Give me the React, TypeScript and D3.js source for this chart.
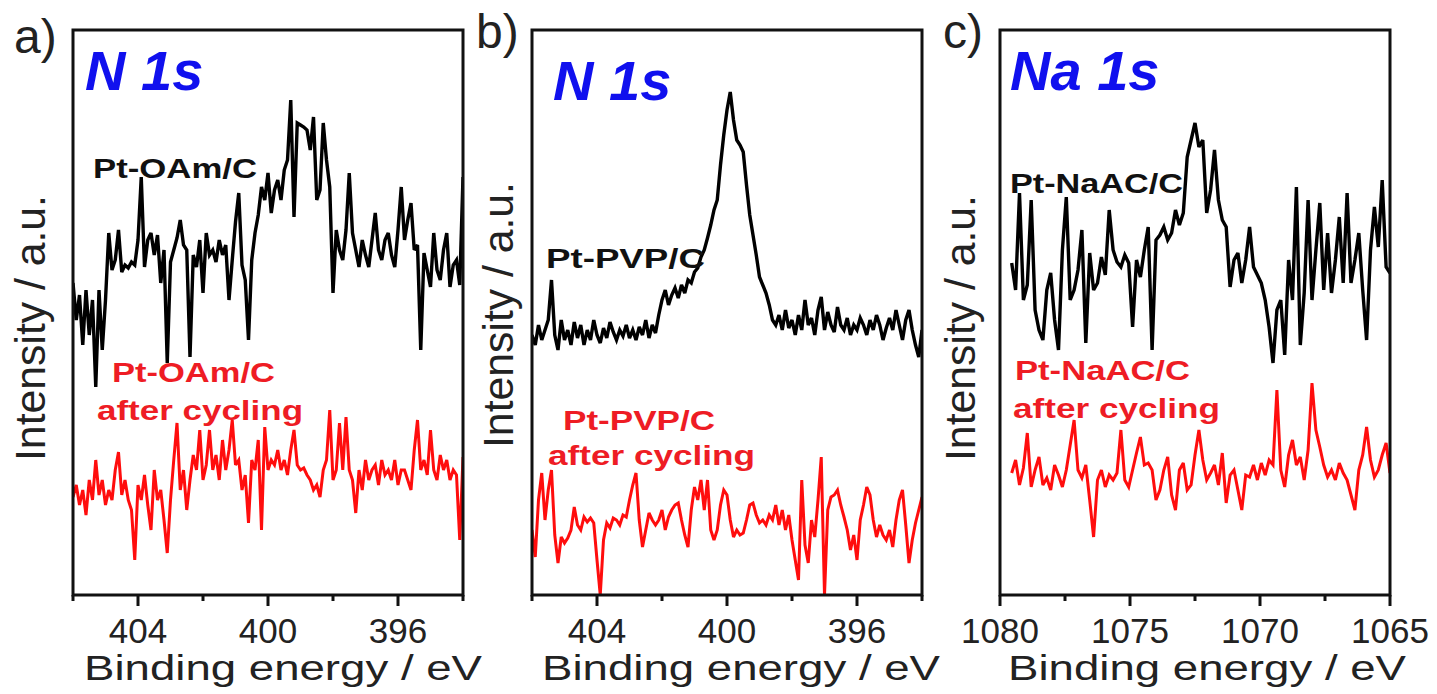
import React from "react";
import * as d3 from "d3";

// ---------- text ----------
const panelLetters = ["a)", "b)", "c)"];
const elementLabels = ["N 1s", "N 1s", "Na 1s"];
const sampleLabels = ["Pt-OAm/C", "Pt-PVP/C", "Pt-NaAC/C"];
const afterLabel = "after cycling";
const xTitle = "Binding energy / eV";
const yTitle = "Intensity / a.u.";

// ---------- axes ----------
const nDomain = [406, 394];
const nMajorTicks = [404, 400, 396];
const nMinorTicks = [406, 402, 398, 394];
const naDomain = [1080, 1065];
const naMajorTicks = [1080, 1075, 1070, 1065];
const naMinorTicks = [1077.5, 1072.5, 1067.5];

// energy span of the recorded spectra (start, end)
const aEnergySpan = [406, 394];
const bEnergySpan = [406, 394];
const cEnergySpan = [1079.55, 1065];

// ---------- series (intensity, a.u.) ----------
const aBlack = [
  317, 280, 305, 255, 310, 265, 300, 213, 310, 250,
  300, 367, 330, 340, 370, 328, 335, 332, 338, 335,
  360, 423, 333, 360, 367, 345, 365, 317, 350, 237,
  338, 350, 362, 380, 355, 350, 243, 345, 333, 360,
  307, 367, 345, 350, 338, 360, 345, 355, 300, 340,
  378, 407, 335, 320, 260, 340, 367, 385, 413, 400,
  427, 387, 410, 420, 400, 430, 440, 500, 383, 477,
  475, 473, 470, 450, 483, 400, 410, 477, 440, 413,
  307, 370, 350, 340, 370, 427, 367, 350, 333, 360,
  345, 333, 360, 387, 350, 340, 360, 367, 345, 333,
  370, 413, 360, 380, 397, 350, 355, 250, 347, 330,
  313, 367, 330, 320, 350, 367, 313, 335, 340, 315,
  423,
];
const aRed = [
  103, 115, 95, 110, 85, 120, 100, 140, 105, 120,
  95, 110, 100, 130, 148, 105, 120, 100, 90, 40,
  115, 100, 125, 95, 70, 130, 100, 110, 80, 47,
  100, 140, 177, 110, 130, 90, 120, 145, 130, 170,
  120, 135, 170, 130, 145, 120, 160, 130, 150, 180,
  135, 140, 110, 125, 77, 140, 130, 160, 70, 173,
  130, 140, 135, 150, 130, 140, 125, 150, 170, 135,
  130, 132, 125, 120, 110, 115, 103, 130, 140, 190,
  120, 130, 177, 130, 183, 130, 120, 87, 130, 110,
  140, 120, 130, 135, 115, 140, 125, 130, 120, 140,
  115, 130, 130, 120, 110, 150, 180, 130, 140, 125,
  170, 130, 120, 145, 130, 140, 120, 130, 125, 60,
  143,
];
const bBlack = [
  265, 255, 275, 260, 270, 280, 320, 265, 250, 280,
  260, 270, 255, 278, 262, 275, 255, 270, 260, 280,
  265, 257, 272, 262, 278, 268, 260, 270, 264, 275,
  262, 270, 260, 273, 265, 280, 262, 275, 267, 285,
  300, 310, 295, 305, 312, 302, 315, 307, 320, 317,
  328, 332, 343, 350, 362, 375, 390, 400, 435, 465,
  490, 508, 480, 460, 455, 448, 415, 385, 365, 345,
  323, 315, 307, 295, 280, 275, 285, 270, 290, 272,
  280, 265, 285, 270, 300, 275, 282, 265, 290, 303,
  270, 288, 275, 268, 293, 275, 270, 282, 265, 275,
  270, 282, 275, 265, 280, 270, 285, 275, 260, 272,
  282, 270, 290, 275, 260, 280, 290, 270, 255, 243,
  270,
];
const bRed = [
  70, 43, 100, 127, 80, 110, 130, 65, 37, 63,
  57, 62, 70, 93, 75, 70, 83, 78, 82, 77,
  40, 5, 60, 77, 72, 82, 80, 75, 85, 83,
  100, 115, 127, 80, 53, 70, 87, 80, 75, 80,
  90, 70, 83, 90, 95, 97, 80, 65, 53, 90,
  113, 100, 120, 90, 120, 70, 60, 70, 95, 110,
  105, 80, 63, 70, 65, 67, 80, 95, 97, 85,
  77, 80, 75, 85, 80, 95, 75, 90, 70, 85,
  60, 40, 20, 120, 55, 37, 80, 63, 100, 143,
  5, 90, 103, 105, 110, 95, 83, 70, 50, 65,
  40, 80, 95, 113, 105, 80, 63, 75, 65, 60,
  70, 53, 80, 100, 110, 75, 37, 60, 77, 90,
  103,
];
const cBlack = [
  337, 310, 407, 300, 315, 400, 290, 270, 260, 310,
  327, 280, 250, 350, 403, 300, 310, 330, 370, 257,
  347, 310, 317, 343, 325, 390, 350, 338, 333, 345,
  337, 273, 340, 323, 350, 373, 250, 360, 365, 373,
  360, 367, 390, 375, 387, 443, 460, 477, 453, 460,
  387, 410, 450, 400, 380, 373, 313, 340, 347, 317,
  340, 373, 333, 325, 317, 300, 273, 237, 290, 300,
  245, 340, 300, 413, 255, 307, 400, 300, 350, 397,
  310, 367, 307, 340, 383, 317, 407, 317, 340, 367,
  310, 260, 350, 393, 353, 420, 333, 327,
];
const cRed = [
  127, 140, 115, 132, 167, 113, 130, 143, 115, 122,
  110, 135, 125, 113, 130, 155, 180, 130, 122, 135,
  100, 63, 120, 130, 113, 125, 120, 127, 170, 120,
  113, 130, 147, 163, 135, 137, 130, 100, 110, 130,
  143, 105, 90, 130, 137, 110, 115, 145, 170, 140,
  120, 127, 135, 115, 147, 97, 125, 130, 110, 90,
  125, 123, 135, 120, 137, 125, 140, 135, 210, 130,
  113, 145, 160, 135, 143, 120, 150, 217, 170, 153,
  135, 123, 130, 120, 137, 127, 120, 105, 90, 130,
  145, 173, 140, 123, 130, 145, 157, 127,
];

const intensityDomain = [5, 570];

// ---------- layout ----------
const W = 1437;
const H = 694;
const TOP = 30;
const BOTTOM = 595;
const FONT = "'Liberation Sans', Arial, Helvetica, sans-serif";
const RED = "#ff0d0d";
const RED_TEXT = "#ee1c24";
const BLUE = "#1010ee";

type Panel = {
  left: number;
  right: number;
  domain: number[];
  major: number[];
  minor: number[];
  span: number[];
  black: number[];
  red: number[];
  letter: string;
  letterPos: [number, number];
  element: string;
  elementPos: [number, number];
  sample: string;
  blackLabel: [number, number, number];
  redLabel: [number, number, number];
  afterPos: [number, number, number];
  yTitleX: number;
  yTitleCY: number;
  xTitleX: number;
};

const panels: Panel[] = [
  {
    left: 73, right: 463, domain: nDomain, major: nMajorTicks, minor: nMinorTicks,
    span: aEnergySpan, black: aBlack, red: aRed,
    letter: panelLetters[0], letterPos: [14, 53],
    element: elementLabels[0], elementPos: [85, 90],
    sample: sampleLabels[0],
    blackLabel: [93, 178, 164], redLabel: [112, 382, 163], afterPos: [97, 420, 206],
    yTitleX: 45, yTitleCY: 328, xTitleX: 84,
  },
  {
    left: 532, right: 922, domain: nDomain, major: nMajorTicks, minor: nMinorTicks,
    span: bEnergySpan, black: bBlack, red: bRed,
    letter: panelLetters[1], letterPos: [476, 48],
    element: elementLabels[1], elementPos: [553, 100],
    sample: sampleLabels[1],
    blackLabel: [546, 268, 159], redLabel: [563, 430, 152], afterPos: [548, 465, 207],
    yTitleX: 513, yTitleCY: 315, xTitleX: 542,
  },
  {
    left: 1000, right: 1390, domain: naDomain, major: naMajorTicks, minor: naMinorTicks,
    span: cEnergySpan, black: cBlack, red: cRed,
    letter: panelLetters[2], letterPos: [943, 48],
    element: elementLabels[2], elementPos: [1010, 90],
    sample: sampleLabels[2],
    blackLabel: [1010, 193, 173], redLabel: [1015, 380, 175], afterPos: [1013, 418, 207],
    yTitleX: 975, yTitleCY: 328, xTitleX: 1008,
  },
];

function energies(span: number[], n: number) {
  return d3.range(n).map((i) => span[0] + ((span[1] - span[0]) * i) / (n - 1));
}

function PanelView({ p, idx }: { p: Panel; idx: number }) {
  const x = d3.scaleLinear().domain(p.domain).range([p.left, p.right]);
  const y = d3.scaleLinear().domain(intensityDomain).range([BOTTOM, TOP]);
  const line = d3
    .line<[number, number]>()
    .x((d) => x(d[0]))
    .y((d) => y(d[1]));
  const eb = energies(p.span, p.black.length);
  const er = energies(p.span, p.red.length);
  const blackPts = p.black.map((v, i) => [eb[i], v] as [number, number]);
  const redPts = p.red.map((v, i) => [er[i], v] as [number, number]);
  const clipId = `clip-${idx}`;
  return (
    <g>
      <defs>
        <clipPath id={clipId}>
          <rect x={p.left} y={TOP} width={p.right - p.left} height={BOTTOM - TOP} />
        </clipPath>
      </defs>
      <g clipPath={`url(#${clipId})`}>
        <path d={line(blackPts) || ""} fill="none" stroke="#000" strokeWidth={3.4}
          strokeLinejoin="miter" strokeMiterlimit={3} />
        <path d={line(redPts) || ""} fill="none" stroke={RED} strokeWidth={3}
          strokeLinejoin="miter" strokeMiterlimit={3} />
      </g>
      <rect x={p.left} y={TOP} width={p.right - p.left} height={BOTTOM - TOP}
        fill="none" stroke="#111" strokeWidth={3} />
      {p.major.map((t) => (
        <line key={`M${t}`} x1={x(t)} x2={x(t)} y1={BOTTOM} y2={BOTTOM + 11}
          stroke="#111" strokeWidth={3} />
      ))}
      {p.minor.map((t) => (
        <line key={`m${t}`} x1={x(t)} x2={x(t)} y1={BOTTOM} y2={BOTTOM + 6}
          stroke="#111" strokeWidth={3} />
      ))}
      {p.major.map((t) => (
        <text key={`L${t}`} x={x(t)} y={643} textAnchor="middle" fontSize={35}
          fontFamily={FONT} fill="#222">{t}</text>
      ))}
      <text x={p.xTitleX} y={680} fontSize={35} fontFamily={FONT} fill="#222"
        textLength={398} lengthAdjust="spacingAndGlyphs">{xTitle}</text>
      <text transform={`translate(${p.yTitleX},${p.yTitleCY}) rotate(-90)`}
        textAnchor="middle" fontSize={42} fontFamily={FONT} fill="#222"
        textLength={266} lengthAdjust="spacingAndGlyphs">{yTitle}</text>
      <text x={p.letterPos[0]} y={p.letterPos[1]} fontSize={48} fontFamily={FONT}
        fill="#222">{p.letter}</text>
      <text x={p.elementPos[0]} y={p.elementPos[1]} fontSize={56} fontFamily={FONT}
        fontWeight="bold" fontStyle="italic" fill={BLUE}>{p.element}</text>
      <text x={p.blackLabel[0]} y={p.blackLabel[1]} fontSize={27} fontFamily={FONT}
        fontWeight="bold" fill="#111" textLength={p.blackLabel[2]}
        lengthAdjust="spacingAndGlyphs">{p.sample}</text>
      <text x={p.redLabel[0]} y={p.redLabel[1]} fontSize={27} fontFamily={FONT}
        fontWeight="bold" fill={RED_TEXT} textLength={p.redLabel[2]}
        lengthAdjust="spacingAndGlyphs">{p.sample}</text>
      <text x={p.afterPos[0]} y={p.afterPos[1]} fontSize={27} fontFamily={FONT}
        fontWeight="bold" fill={RED_TEXT} textLength={p.afterPos[2]}
        lengthAdjust="spacingAndGlyphs">{afterLabel}</text>
    </g>
  );
}

export default function App() {
  return (
    <svg width={W} height={H} viewBox={`0 0 ${W} ${H}`}
      style={{ position: "absolute", left: 0, top: 0, background: "#fff" }}>
      <rect x={0} y={0} width={W} height={H} fill="#fff" />
      {panels.map((p, i) => (
        <PanelView key={i} p={p} idx={i} />
      ))}
    </svg>
  );
}
